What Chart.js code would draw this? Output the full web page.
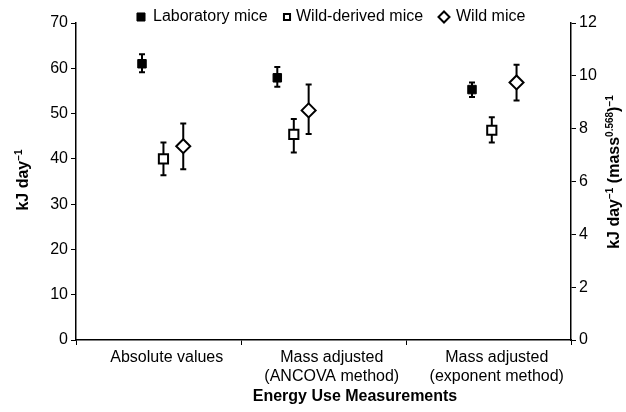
<!DOCTYPE html>
<html>
<head>
<meta charset="utf-8">
<script src="https://cdn.jsdelivr.net/npm/chart.js@4"></script>
<style>
  html, body { margin: 0; padding: 0; background: #fff; }
  #wrap { width: 626px; height: 412px; }
</style>
</head>
<body>
<div id="wrap"><canvas id="chartMice"></canvas></div>
<script>
// categories on the x axis, labels sit a little right of each category centre
const categories = ['Absolute values', ['Mass adjusted', '(ANCOVA method)'], ['Mass adjusted', '(exponent method)']];
const labelPos = [0.55, 1.55, 2.55];
const seriesNames = ['Laboratory mice', 'Wild-derived mice', 'Wild mice'];

// x positions of each group's markers (offsets inside each category)
const labX  = [0.40, 1.22, 2.40];
const wdX   = [0.53, 1.32, 2.52];
const wildX = [0.65, 1.41, 2.67];

// absolute + ANCOVA values, kJ day-1 (left axis)
const labMean  = [61.0, 57.9];
const labLow   = [59.1, 55.9];
const labHigh  = [63.1, 60.3];
const wdMean   = [40.0, 45.4];
const wdLow    = [36.4, 41.4];
const wdHigh   = [43.6, 48.8];
const wildMean = [42.8, 50.7];
const wildLow  = [37.7, 45.5];
const wildHigh = [47.8, 56.4];

// exponent method, kJ day-1 (mass^0.568)-1 (right axis)
const expMean = [9.48, 7.94, 9.75];
const expLow  = [9.20, 7.48, 9.07];
const expHigh = [9.75, 8.43, 10.42];

const leftTicks = [0, 10, 20, 30, 40, 50, 60, 70];
const rightTicks = [0, 2, 4, 6, 8, 10, 12];

const FONT = "'Liberation Sans', Arial, sans-serif";

const pts = (xs, ms, lo, hi) => ms.map((m, i) => ({ x: xs[i], y: m, lo: lo[i], hi: hi[i] }));

const styles = [
  { pointStyle: 'rect', pointRadius: 6, backgroundColor: '#000', borderColor: '#000', pointBorderWidth: 1 },
  { pointStyle: 'rect', pointRadius: 6.5, backgroundColor: '#fff', borderColor: '#000', pointBorderWidth: 2 },
  { pointStyle: 'rectRot', pointRadius: 7, backgroundColor: '#fff', borderColor: '#000', pointBorderWidth: 2 }
];

const datasets = [
  { label: seriesNames[0], data: pts(labX.slice(0, 2), labMean, labLow, labHigh), yAxisID: 'y', ...styles[0] },
  { label: seriesNames[1], data: pts(wdX.slice(0, 2), wdMean, wdLow, wdHigh), yAxisID: 'y', ...styles[1] },
  { label: seriesNames[2], data: pts(wildX.slice(0, 2), wildMean, wildLow, wildHigh), yAxisID: 'y', ...styles[2] },
  { label: seriesNames[0] + ' exp', data: [{ x: labX[2], y: expMean[0], lo: expLow[0], hi: expHigh[0] }], yAxisID: 'y1', ...styles[0] },
  { label: seriesNames[1] + ' exp', data: [{ x: wdX[2], y: expMean[1], lo: expLow[1], hi: expHigh[1] }], yAxisID: 'y1', ...styles[1] },
  { label: seriesNames[2] + ' exp', data: [{ x: wildX[2], y: expMean[2], lo: expLow[2], hi: expHigh[2] }], yAxisID: 'y1', ...styles[2] }
];

// error bars under the markers
const errorBars = {
  id: 'errorBars',
  beforeDatasetsDraw(chart) {
    const ctx = chart.ctx;
    ctx.save();
    ctx.strokeStyle = '#000';
    ctx.lineWidth = 2;
    chart.data.datasets.forEach(ds => {
      const ys = chart.scales[ds.yAxisID];
      const xs = chart.scales.x;
      ds.data.forEach(p => {
        const px = xs.getPixelForValue(p.x);
        const top = ys.getPixelForValue(p.hi);
        const bot = ys.getPixelForValue(p.lo);
        ctx.beginPath();
        ctx.moveTo(px, top); ctx.lineTo(px, bot);
        ctx.moveTo(px - 3, top); ctx.lineTo(px + 3, top);
        ctx.moveTo(px - 3, bot); ctx.lineTo(px + 3, bot);
        ctx.stroke();
      });
    });
    ctx.restore();
  }
};

// legend row across the top
const topLegend = {
  id: 'topLegend',
  afterDraw(chart) {
    const ctx = chart.ctx;
    const marks = [141, 287, 444];
    const texts = [153, 296, 456];
    const radii = [5.7, 4.3, 5.5];
    ctx.save();
    ctx.font = '16px ' + FONT;
    ctx.textBaseline = 'middle';
    seriesNames.forEach((name, i) => {
      const ds = chart.data.datasets[i];
      ctx.fillStyle = ds.backgroundColor;
      ctx.strokeStyle = ds.borderColor;
      ctx.lineWidth = i === 0 ? 1 : 2;
      Chart.helpers.drawPoint(ctx, { pointStyle: ds.pointStyle, radius: radii[i], borderWidth: ctx.lineWidth }, marks[i], 17);
      ctx.fillStyle = '#000';
      ctx.fillText(name, texts[i], 17);
    });
    ctx.restore();
  }
};

// rotated axis titles with real superscripts
function richVertical(ctx, parts, cx, cy) {
  const big = 'bold 16px ' + FONT, small = 'bold 10px ' + FONT;
  let w = 0;
  parts.forEach(p => { ctx.font = p[1] ? small : big; w += ctx.measureText(p[0]).width; });
  ctx.save();
  ctx.translate(cx, cy);
  ctx.rotate(-Math.PI / 2);
  ctx.fillStyle = '#000';
  ctx.textBaseline = 'alphabetic';
  let x = -w / 2;
  parts.forEach(p => {
    ctx.font = p[1] ? small : big;
    ctx.fillText(p[0], x, p[1] ? -0.5 : 6);
    x += ctx.measureText(p[0]).width;
  });
  ctx.restore();
}
const axisTitles = {
  id: 'axisTitles',
  afterDraw(chart) {
    const ctx = chart.ctx;
    richVertical(ctx, [['kJ day', 0], ['\u22121', 1]], 22, 180);
    richVertical(ctx, [['kJ day', 0], ['\u22121', 1], [' (mass', 0], ['0.568', 1], [')', 0], ['\u22121', 1]], 613, 172);
    ctx.save();
    ctx.font = 'bold 16px ' + FONT;
    ctx.fillStyle = '#000';
    ctx.textAlign = 'center';
    ctx.textBaseline = 'middle';
    ctx.fillText('Energy Use Measurements', 355, 397);
    ctx.restore();
  }
};

new Chart(document.getElementById('chartMice').getContext('2d'), {
  type: 'scatter',
  data: { datasets },
  plugins: [errorBars, topLegend, axisTitles],
  options: {
    responsive: true,
    maintainAspectRatio: false,
    animation: false,
    layout: { padding: { top: 23, left: 0, right: 0, bottom: 0 } },
    plugins: { legend: { display: false }, tooltip: { enabled: false } },
    scales: {
      x: {
        type: 'linear',
        min: 0,
        max: 3,
        afterBuildTicks: s => { s.ticks = [0, labelPos[0], 1, labelPos[1], 2, labelPos[2], 3].map(v => ({ value: v })); },
        afterFit: s => { s.height = 72; },
        border: { color: '#000', width: 1.5 },
        grid: {
          drawOnChartArea: false,
          tickLength: 5,
          tickColor: c => (c.tick && Number.isInteger(c.tick.value)) ? '#000' : 'rgba(0,0,0,0)'
        },
        ticks: {
          autoSkip: false,
          maxRotation: 0,
          padding: 3,
          color: '#000',
          font: { family: FONT, size: 16 },
          callback: v => Number.isInteger(v) ? '' : categories[Math.floor(v)]
        }
      },
      y: {
        position: 'left',
        min: 0,
        max: 70,
        afterBuildTicks: s => { s.ticks = leftTicks.map(v => ({ value: v })); },
        afterFit: s => { s.width = 76; },
        border: { color: '#000', width: 1.5 },
        grid: { drawOnChartArea: false, tickLength: 5, tickColor: '#000' },
        ticks: { color: '#000', padding: 3, font: { family: FONT, size: 16 } }
      },
      y1: {
        position: 'right',
        min: 0,
        max: 12,
        afterBuildTicks: s => { s.ticks = rightTicks.map(v => ({ value: v })); },
        afterFit: s => { s.width = 55; },
        border: { color: '#000', width: 1.5 },
        grid: { drawOnChartArea: false, tickLength: 5, tickColor: '#000' },
        ticks: { color: '#000', padding: 3, font: { family: FONT, size: 16 } }
      }
    }
  }
});
</script>
</body>
</html>
